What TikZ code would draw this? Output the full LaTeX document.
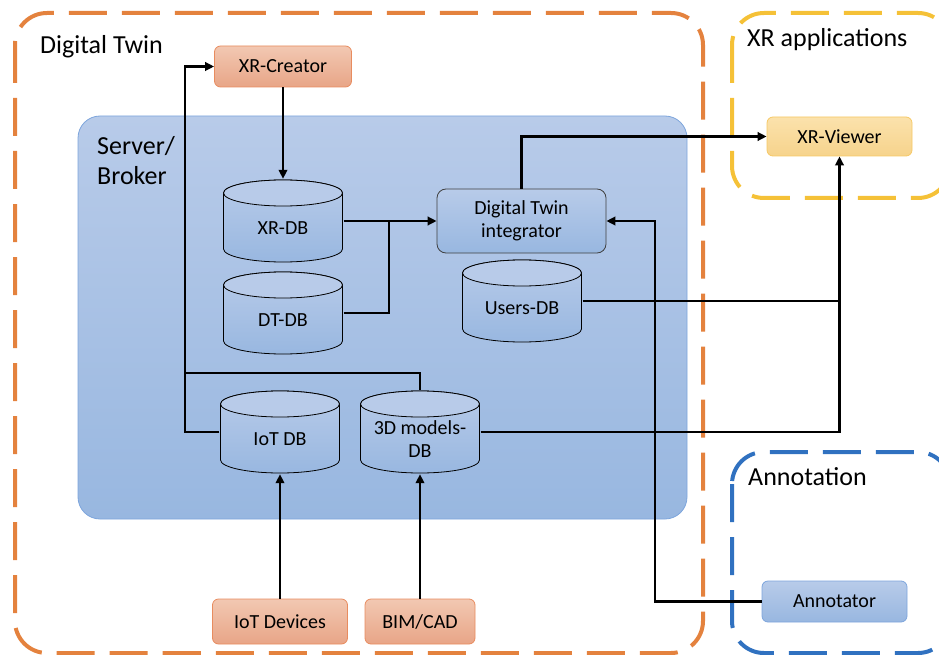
\documentclass[tikz,border=0pt]{standalone}
\usepackage{fontspec}
\setmainfont{Carlito}
\usetikzlibrary{arrows.meta}
\definecolor{serverTop}{RGB}{184,203,233}
\definecolor{serverBot}{RGB}{152,183,224}
\definecolor{serverEdge}{RGB}{125,165,220}
\definecolor{orangeTop}{RGB}{242,200,178}
\definecolor{orangeBot}{RGB}{232,165,135}
\definecolor{orangeEdge}{RGB}{232,140,95}
\definecolor{yellowTop}{RGB}{251,226,172}
\definecolor{yellowBot}{RGB}{246,211,140}
\definecolor{yellowEdge}{RGB}{246,200,100}
\definecolor{dtOrange}{RGB}{228,130,62}
\definecolor{xrYellow}{RGB}{245,193,55}
\definecolor{annBlue}{RGB}{48,113,192}
\tikzset{
    group_box/.style = {
        line width=4pt,
        dash pattern=on 38pt off 15pt,
        rounded corners=32pt
    },
    server_box/.style = {
        draw=serverEdge,
        line width=0.8pt,
        top color=serverTop,
        bottom color=serverBot,
        rounded corners=22pt
    },
    title_text/.style = {
        font=\fontsize{26}{30}\selectfont,
        anchor=west,
        align=left,
        inner sep=0pt
    },
    box_node/.style = {
        rounded corners=6pt,
        line width=0.8pt,
        font=\fontsize{20}{23}\selectfont,
        align=center,
        inner sep=0pt
    },
    orange_node/.style = {
        box_node,
        draw=orangeEdge,
        top color=orangeTop,
        bottom color=orangeBot
    },
    yellow_node/.style = {
        box_node,
        draw=yellowEdge,
        top color=yellowTop,
        bottom color=yellowBot
    },
    blue_node/.style = {
        box_node,
        draw=serverEdge,
        top color=serverTop,
        bottom color=serverBot
    },
    db_label/.style = {
        font=\fontsize{20}{23}\selectfont,
        align=center,
        inner sep=0pt,
        yshift=-7pt
    },
    db_node/.style = {
        minimum width=121pt,
        minimum height=84pt,
        inner sep=0pt,
        path picture={
            \path[draw=black, line width=0.8pt, top color=serverTop, bottom color=serverBot]
                ([xshift=1pt, yshift=-14pt]path picture bounding box.north west)
                -- ([xshift=1pt, yshift=14pt]path picture bounding box.south west)
                arc[start angle=180, end angle=360, x radius=59.5pt, y radius=13pt]
                -- ([xshift=-1pt, yshift=-14pt]path picture bounding box.north east)
                arc[start angle=0, end angle=180, x radius=59.5pt, y radius=13pt] -- cycle;
            \path[draw=black, line width=0.8pt, fill=serverTop]
                ([yshift=-14pt]path picture bounding box.north) ellipse[x radius=59.5pt, y radius=13pt];
        },
        label={[db_label]center:#1}
    },
    main_line/.style = {
        draw=black,
        line width=2.2pt
    },
    arrow_line/.style = {
        main_line,
        -{Triangle[length=9pt, width=8.5pt]}
    },
}
\begin{document}
\begin{tikzpicture}[x=1pt, y=1pt]
    \useasboundingbox (0, 0) rectangle (939, -655);

    \path[group_box, draw=dtOrange] (15, -13) rectangle (703, -653);
    \path[group_box, draw=xrYellow] (732, -13) rectangle (950, -198);
    \path[group_box, draw=annBlue] (732, -452) rectangle (950, -653);
    \path[server_box] (78, -116) rectangle (687, -519);

    \node[title_text] (dt_title) at (40, -47) {Digital Twin};
    \node[title_text] (xr_title) at (747, -40) {XR applications};
    \node[title_text] (ann_title) at (748, -477) {Annotation};
    \node[title_text] (server_title) at (97, -161) {Server/\\Broker};

    \node[orange_node, minimum width=137pt, minimum height=41pt] (xr_creator) at (283, -66.5) {XR-Creator};
    \node[blue_node, draw=black!75, rounded corners=9pt, minimum width=169pt, minimum height=64pt] (dt_integrator) at (521.5, -221) {Digital Twin\\integrator};
    \node[yellow_node, minimum width=145pt, minimum height=39pt] (xr_viewer) at (839.5, -136.5) {XR-Viewer};
    \node[orange_node, minimum width=135pt, minimum height=45pt] (iot_devices) at (280, -621.5) {IoT Devices};
    \node[orange_node, minimum width=110pt, minimum height=45pt] (bim_cad) at (420, -621.5) {BIM/CAD};
    \node[blue_node, minimum width=145pt, minimum height=41pt] (annotator) at (834.5, -601.5) {Annotator};

    \node[db_node={XR-DB}] (xr_db) at (283, -221) {};
    \node[db_node={DT-DB}] (dt_db) at (283, -313) {};
    \node[db_node={Users-DB}] (users_db) at (522, -301) {};
    \node[db_node={IoT DB}] (iot_db) at (280, -432) {};
    \node[db_node={3D models-\\DB}] (models_db) at (420, -432) {};

    \coordinate (bus) at (185, -373);
    \coordinate (db_join) at (389, -221);
    \coordinate (ann_bend) at (655, -221);

    \draw[arrow_line] (xr_creator.south) -- (xr_db.north);
    \draw[arrow_line] (iot_db.west) -- (iot_db.west -| bus) |- (xr_creator.west);
    \draw[main_line] (models_db.north) |- (bus);
    \draw[arrow_line] (xr_db.east) -- (dt_integrator.west);
    \draw[main_line] (dt_db.east) -| (db_join);
    \draw[arrow_line] (dt_integrator.north) |- (xr_viewer.west);
    \draw[arrow_line] (users_db.east) -| (xr_viewer.south);
    \draw[main_line] (models_db.east) -| (users_db.east -| xr_viewer.south);
    \draw[arrow_line] (annotator.west) -| (ann_bend) -- (dt_integrator.east);
    \draw[arrow_line] (iot_devices.north) -- (iot_db.south);
    \draw[arrow_line] (bim_cad.north) -- (models_db.south);
\end{tikzpicture}
\end{document}
